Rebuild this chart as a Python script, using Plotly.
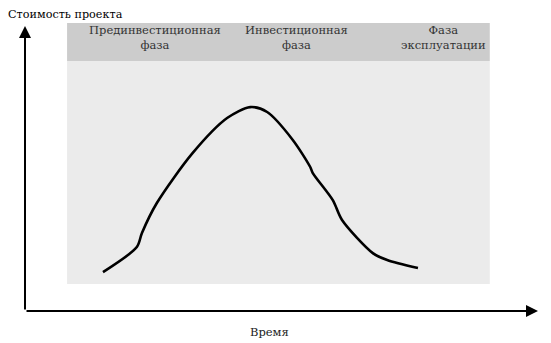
import plotly.graph_objects as go

# Curve: time (arbitrary units) vs project cost (arbitrary units)
time_vals = [15.2, 21.8, 22.8, 25.7, 32.7, 39.4, 43.9, 47.2, 52.2, 55.6, 56.1, 60.0, 61.8, 67.8, 70.6, 76.6]
cost_vals = [13.5, 22.2, 27.1, 37.5, 54.9, 67.0, 70.8, 69.1, 59.4, 50.0, 47.9, 38.5, 31.6, 20.1, 17.7, 14.9]

phase_labels = ["Прединвестиционная<br>фаза", "Инвестиционная<br>фаза", "Фаза<br>эксплуатации"]
phase_centers = [25.3, 53.0, 81.5]

y_title = "Стоимость проекта"
x_title = "Время"

FONT = "'DejaVu Serif'"

fig = go.Figure()

fig.add_trace(go.Scatter(
    x=time_vals, y=cost_vals, mode="lines",
    line=dict(color="black", width=2.6, shape="spline", smoothing=0.8),
    hoverinfo="skip", showlegend=False,
))

# Background panel and header band
fig.add_shape(type="rect", xref="x", yref="y", x0=8.2, x1=90.6, y0=9.4, y1=86.8,
              fillcolor="#ebebeb", line=dict(width=0), layer="below")
fig.add_shape(type="rect", xref="x", yref="y", x0=8.2, x1=90.6, y0=86.8, y1=100.3,
              fillcolor="#cccccc", line=dict(width=0), layer="below")

for lab, cx in zip(phase_labels, phase_centers):
    fig.add_annotation(x=cx, y=95.0, xref="x", yref="y", text=lab, showarrow=False,
                       font=dict(family=FONT, size=11.5, color="#333333"),
                       align="center", xanchor="center", yanchor="middle", borderpad=0)

# Axes with arrows
fig.add_annotation(x=100, y=0, ax=0, ay=0, xref="x", yref="y", axref="x", ayref="y",
                   text="", showarrow=True, arrowhead=2, arrowsize=1.2, arrowwidth=2,
                   arrowcolor="black", standoff=0)
fig.add_annotation(x=0, y=99, ax=0, ay=0, xref="x", yref="y", axref="x", ayref="y",
                   text="", showarrow=True, arrowhead=2, arrowsize=1.2, arrowwidth=2,
                   arrowcolor="black", standoff=0)

fig.add_annotation(x=-0.037, y=1.031, xref="paper", yref="paper", text=y_title, showarrow=False,
                   font=dict(family=FONT, size=11.2, color="black"), xanchor="left", yanchor="middle")
fig.add_annotation(x=0.476, y=-0.073, xref="paper", yref="paper", text=x_title, showarrow=False,
                   font=dict(family=FONT, size=11.5, color="#222222"), xanchor="center", yanchor="middle")

fig.update_xaxes(range=[0, 100], visible=False, fixedrange=True)
fig.update_yaxes(range=[0, 100], visible=False, fixedrange=True)

fig.update_layout(
    width=551, height=343,
    margin=dict(l=25, r=13, t=23, b=32),
    plot_bgcolor="white", paper_bgcolor="white",
    showlegend=False,
)

fig.write_html("out.html")
